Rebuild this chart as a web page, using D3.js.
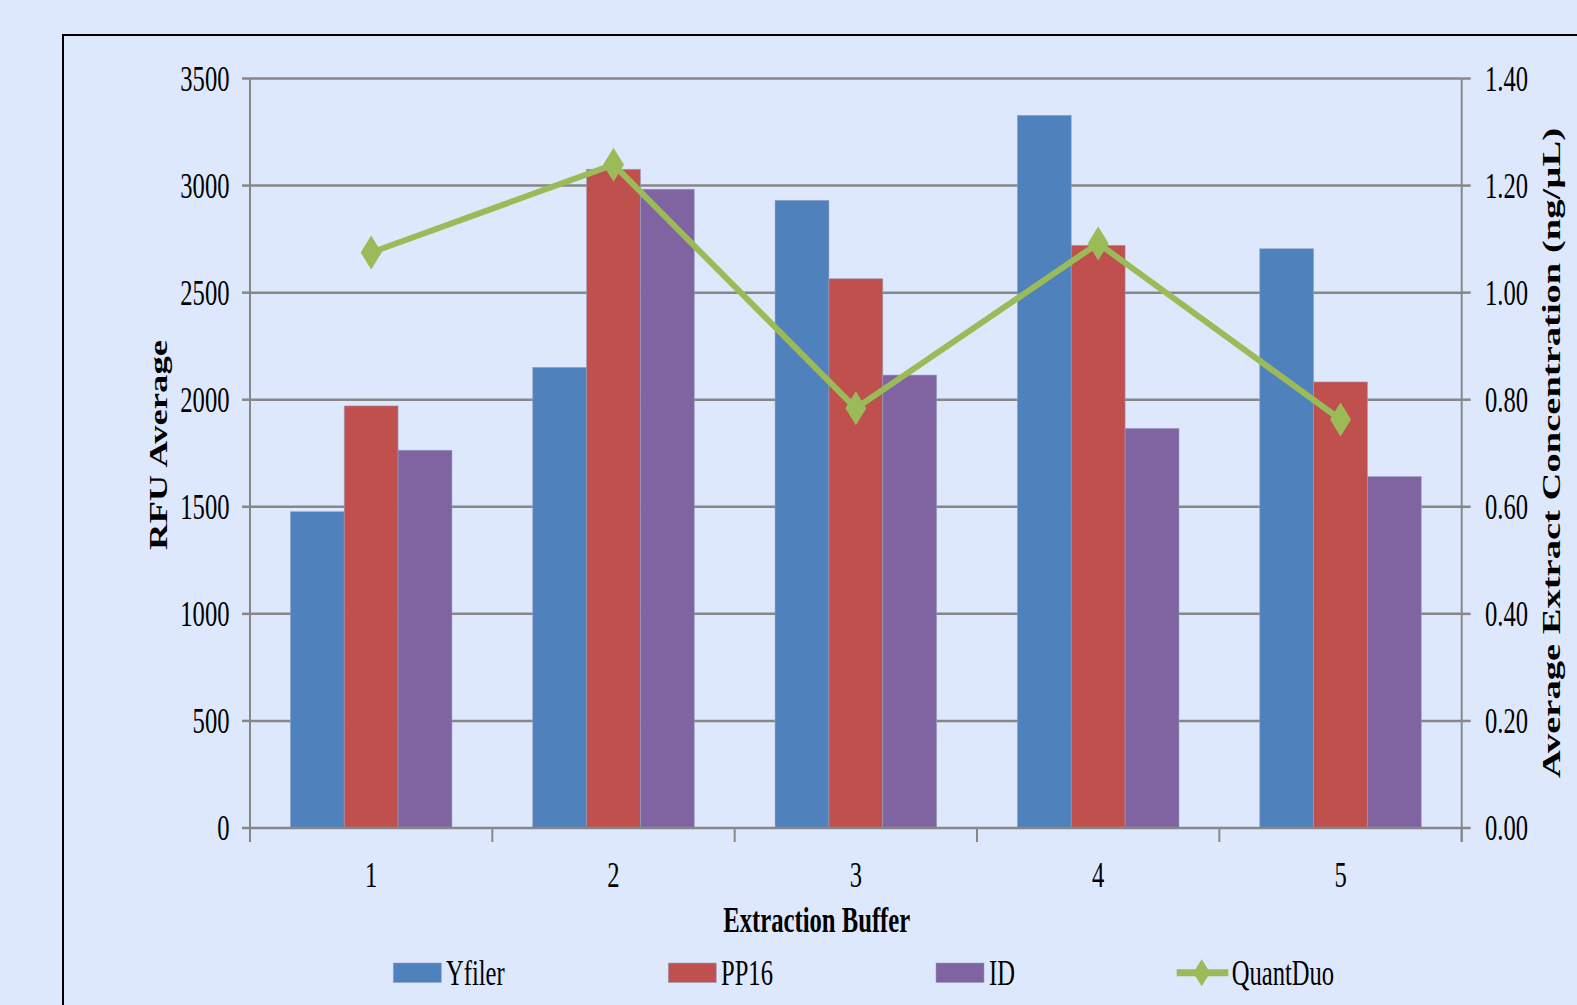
<!DOCTYPE html>
<html>
<head>
<meta charset="utf-8">
<script src="https://cdn.jsdelivr.net/npm/d3@7"></script>
<style>
  html, body { margin: 0; padding: 0; background: #DEE8FD; overflow: hidden; }
  svg { display: block; }
</style>
</head>
<body>
<svg id="chart" width="1577" height="1005"></svg>
<script>
// ---- data ----
const categories = ["1", "2", "3", "4", "5"];
const seriesNames = ["Yfiler", "PP16", "ID"];
const yfiler = [1477, 2151, 2931, 3328, 2705];
const pp16 = [1971, 3076, 2565, 2721, 2083];
const idKit = [1764, 2983, 2115, 1866, 1641];
const quantDuo = [1.075, 1.239, 0.784, 1.092, 0.763];
const leftTicks = [0, 500, 1000, 1500, 2000, 2500, 3000, 3500];
const rightTicks = [0, 0.2, 0.4, 0.6, 0.8, 1.0, 1.2, 1.4];
const lineName = "QuantDuo";
const xTitle = "Extraction Buffer";
const yTitle = "RFU Average";
const y2Title = "Average Extract Concentration (ng/\u00B5L)";

const barValues = [yfiler, pp16, idKit];
const colors = ["#4F81BD", "#C0504D", "#8064A2"];
const lineColor = "#9BBB59";

const svg = d3.select("#chart");
const K = 1.49;          // vertical stretch of the text in the reference
const FS = 24.6;         // font size (horizontal em)
const FONT = "'Liberation Serif', 'Times New Roman', serif";

const L = 250, R = 1461.7, T = 78.5, B = 828;

// frame
svg.append("rect").attr("x", 63).attr("y", 35).attr("width", 1700).attr("height", 1100)
  .attr("fill", "none").attr("stroke", "#000").attr("stroke-width", 2);

const x = d3.scaleBand().domain(categories).range([L, R]).paddingInner(0).paddingOuter(0);
const xs = d3.scaleBand().domain(seriesNames).range([0, x.bandwidth()]).paddingInner(0).paddingOuter(0.75);
const y = d3.scaleLinear().domain([0, 3500]).range([B, T]);
const y2 = d3.scaleLinear().domain([0, 1.4]).range([B, T]);

function stretchedText(g, tx, ty, str, opts = {}) {
  const gg = g.append("g").attr("transform",
    `translate(${tx},${ty}) scale(1,${K})` + (opts.rotate ? " rotate(-90)" : ""));
  const t = gg.append("text").attr("x", 0).attr("y", 0)
    .attr("font-family", FONT).attr("font-size", opts.size || FS)
    .attr("font-weight", opts.bold ? "bold" : "normal")
    .attr("text-anchor", opts.anchor || "start")
    .attr("fill", "#000").text(str);
  if (opts.len) t.attr("textLength", opts.len).attr("lengthAdjust", "spacingAndGlyphs");
  return t;
}

// gridlines
const grid = svg.append("g");
grid.selectAll("line").data(leftTicks.filter(d => d > 0)).join("line")
  .attr("x1", L).attr("x2", R).attr("y1", d => y(d)).attr("y2", d => y(d))
  .attr("stroke", "#878787").attr("stroke-width", 2.5);

// bars
const groups = svg.append("g").selectAll("g").data(categories).join("g")
  .attr("transform", d => `translate(${x(d)},0)`);
groups.selectAll("rect").data((c, ci) => seriesNames.map((s, si) => ({ s, si, v: barValues[si][ci] })))
  .join("rect")
  .attr("x", d => xs(d.s)).attr("width", xs.bandwidth())
  .attr("y", d => y(d.v)).attr("height", d => B - y(d.v))
  .attr("fill", d => colors[d.si])
  .attr("stroke", "rgba(150,160,190,0.7)").attr("stroke-width", 0.8);

// axes lines
const axisC = "#878787";
svg.append("line").attr("x1", L).attr("x2", L).attr("y1", T).attr("y2", B + 14).attr("stroke", axisC).attr("stroke-width", 2);
svg.append("line").attr("x1", R).attr("x2", R).attr("y1", T).attr("y2", B + 14).attr("stroke", axisC).attr("stroke-width", 2);
svg.append("line").attr("x1", L).attr("x2", R).attr("y1", B).attr("y2", B).attr("stroke", axisC).attr("stroke-width", 2.5);

// left ticks + labels
const lt = svg.append("g");
leftTicks.forEach(v => {
  lt.append("line").attr("x1", L - 8).attr("x2", L).attr("y1", y(v)).attr("y2", y(v)).attr("stroke", axisC).attr("stroke-width", 2.5);
  stretchedText(lt, 229.5, y(v) + 12.4, d3.format("d")(v), { anchor: "end" });
});
// right ticks + labels
const rt = svg.append("g");
rightTicks.forEach(v => {
  rt.append("line").attr("x1", R).attr("x2", R + 9).attr("y1", y2(v)).attr("y2", y2(v)).attr("stroke", axisC).attr("stroke-width", 2.5);
  stretchedText(rt, 1485, y2(v) + 12.4, d3.format(".2f")(v), { anchor: "start" });
});
// bottom ticks + category labels
const bt = svg.append("g");
const boundaries = categories.map(c => x(c)).concat([R]);
boundaries.forEach(bx => {
  bt.append("line").attr("x1", bx).attr("x2", bx).attr("y1", B).attr("y2", B + 14).attr("stroke", axisC).attr("stroke-width", 2);
});
categories.forEach(c => {
  stretchedText(bt, x(c) + x.bandwidth() / 2, 887, c, { anchor: "middle" });
});

// line series
const cx = c => x(c) + x.bandwidth() / 2;
const lineGen = d3.line().x((d, i) => cx(categories[i])).y(d => y2(d));
svg.append("path").datum(quantDuo).attr("d", lineGen)
  .attr("fill", "none").attr("stroke", lineColor).attr("stroke-width", 6).attr("stroke-linejoin", "round");
const diamond = "M0,-17L10.5,0L0,17L-10.5,0Z";
svg.append("g").selectAll("path").data(quantDuo).join("path")
  .attr("d", diamond)
  .attr("transform", (d, i) => `translate(${cx(categories[i])},${y2(d)})`)
  .attr("fill", lineColor);

// axis titles
stretchedText(svg, 816.7, 932, xTitle, { anchor: "middle", bold: true, len: 187 });
stretchedText(svg, 167, 445, yTitle, { anchor: "middle", bold: true, rotate: true, len: 210 / K });
stretchedText(svg, 1560, 453, y2Title, { anchor: "middle", bold: true, rotate: true, len: 650 / K });

// legend
const leg = svg.append("g");
const legItems = [
  { name: seriesNames[0], sx: 393.3, tx: 446 },
  { name: seriesNames[1], sx: 668.3, tx: 721 },
  { name: seriesNames[2], sx: 936, tx: 989 }
];
legItems.forEach((it, i) => {
  leg.append("rect").attr("x", it.sx).attr("y", 963).attr("width", 48).attr("height", 19.5)
    .attr("fill", colors[i]).attr("stroke", "rgba(150,160,190,0.7)").attr("stroke-width", 0.8);
  stretchedText(leg, it.tx, 985, it.name);
});
leg.append("line").attr("x1", 1176.7).attr("x2", 1228.3).attr("y1", 972.7).attr("y2", 972.7)
  .attr("stroke", lineColor).attr("stroke-width", 7);
leg.append("path").attr("d", "M0,-13.5L8.5,0L0,13.5L-8.5,0Z")
  .attr("transform", "translate(1201.7,972.7)").attr("fill", lineColor);
stretchedText(leg, 1231.7, 985, lineName);
</script>
</body>
</html>
